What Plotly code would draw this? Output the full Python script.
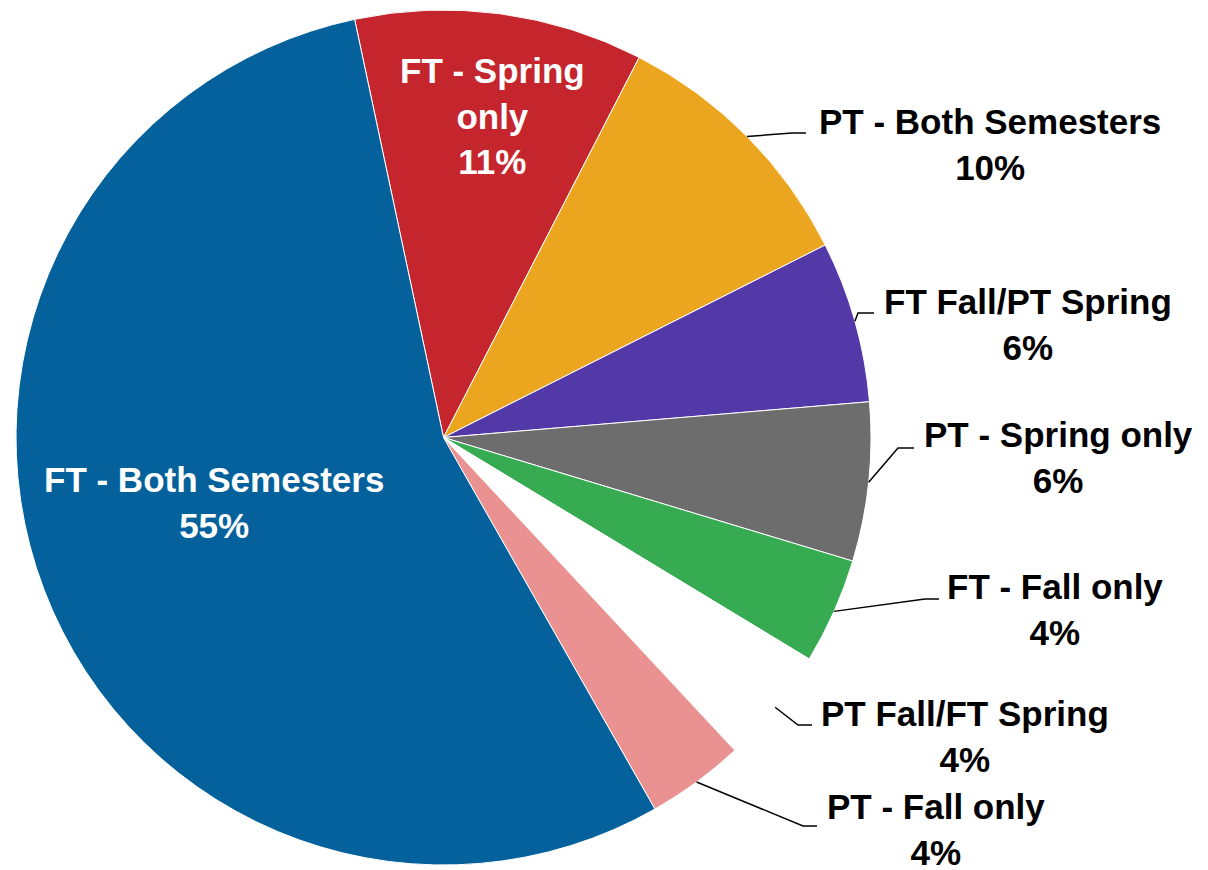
import math
import plotly.graph_objects as go

# ---------------- data ----------------
categories = [
    "FT - Spring only",
    "PT - Both Semesters",
    "FT Fall/PT Spring",
    "PT - Spring only",
    "FT - Fall only",
    "PT Fall/FT Spring",
    "PT - Fall only",
    "FT - Both Semesters",
]
shares = [10.9, 10.0, 6.1, 6.0, 4.0, 4.4, 3.7, 54.9]
slice_colors = ["#C5252C", "#EBA51F", "#5338A7", "#6D6D6D",
                "#36AB52", "#FFFFFF", "#EA9191", "#05619B"]

# ---------------- layout constants ----------------
W, H = 1208, 870
PIE_L, PIE_R, PIE_T, PIE_B = 16, 871, 10, 865
ROTATION = -12.0
FONT = "Liberation Sans, Arial, sans-serif"
FSIZE = 35

# label placement (pixels): display text wrap, centre x, centre y, inside?
label_style = {
    "FT - Spring only":    dict(wrap="FT - Spring<br>only", cx=492, cy=116, inside=True),
    "FT - Both Semesters": dict(wrap="FT - Both Semesters", cx=214, cy=502, inside=True),
    "PT - Both Semesters": dict(wrap="PT - Both Semesters", cx=990, cy=144, inside=False, elbow=(792, 133), end=(806, 133)),
    "FT Fall/PT Spring":   dict(wrap="FT Fall/PT Spring", cx=1028, cy=324, inside=False, elbow=(858, 313), end=(874, 313)),
    "PT - Spring only":    dict(wrap="PT - Spring only", cx=1058, cy=457, inside=False, elbow=(898, 448), end=(914, 448)),
    "FT - Fall only":      dict(wrap="FT - Fall only", cx=1055, cy=609, inside=False, elbow=(925, 599), end=(939, 599)),
    "PT Fall/FT Spring":   dict(wrap="PT Fall/FT Spring", cx=965, cy=736, inside=False, elbow=(798, 725), end=(812, 725)),
    "PT - Fall only":      dict(wrap="PT - Fall only", cx=936, cy=829, inside=False, elbow=(803, 826), end=(817, 826)),
}


def px_x(x):
    return x / W


def px_y(y):
    return 1 - y / H


fig = go.Figure(
    go.Pie(
        labels=categories,
        values=shares,
        sort=False,
        direction="clockwise",
        rotation=ROTATION,
        marker=dict(colors=slice_colors, line=dict(color="#FFFFFF", width=1)),
        textinfo="none",
        hoverinfo="label+percent",
        showlegend=False,
        domain=dict(x=[px_x(PIE_L), px_x(PIE_R)], y=[px_y(PIE_B), px_y(PIE_T)]),
    )
)

# pie geometry derived from domain
cx = (PIE_L + PIE_R) / 2
cy = (PIE_T + PIE_B) / 2
r = min(PIE_R - PIE_L, PIE_B - PIE_T) / 2
total = sum(shares)

annotations = []
shapes = []
cum = 0.0
for name, v in zip(categories, shares):
    mid = ROTATION + (cum + v / 2) / total * 360.0
    cum += v
    pct = round(v / total * 100)
    st = label_style[name]
    lines = st["wrap"].split("<br>") + [f"{pct}%"]
    text = "<br>".join(f"<b>{ln}</b>" for ln in lines)
    annotations.append(dict(
        x=px_x(st["cx"]), y=px_y(st["cy"]), xref="paper", yref="paper",
        text=text, showarrow=False, xanchor="center", yanchor="middle",
        align="center",
        font=dict(family=FONT, size=FSIZE,
                  color="#FFFFFF" if st["inside"] else "#000000"),
    ))
    if not st["inside"]:
        ex = cx + r * math.sin(math.radians(mid))
        ey = cy - r * math.cos(math.radians(mid))
        bx, by = st["elbow"]
        tx, ty = st["end"]
        path = (f"M {px_x(ex)},{px_y(ey)} L {px_x(bx)},{px_y(by)} "
                f"L {px_x(tx)},{px_y(ty)}")
        shapes.append(dict(type="path", xref="paper", yref="paper", path=path,
                           line=dict(color="#000000", width=1.5)))

fig.update_layout(
    width=W, height=H,
    margin=dict(l=0, r=0, t=0, b=0),
    paper_bgcolor="#FFFFFF",
    plot_bgcolor="#FFFFFF",
    annotations=annotations,
    shapes=shapes,
    showlegend=False,
)

fig.write_html("out.html", config={"displayModeBar": False},
               post_script="document.body.style.margin='0';")
